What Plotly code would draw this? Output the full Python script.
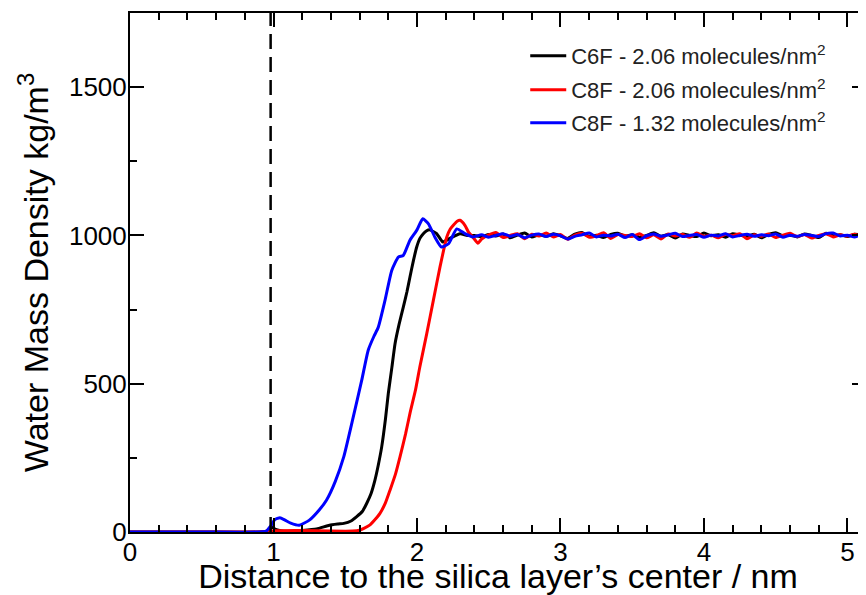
import plotly.graph_objects as go

# ---------------- data ----------------
series_names = [
    "C6F - 2.06 molecules/nm<sup>2</sup>",
    "C8F - 2.06 molecules/nm<sup>2</sup>",
    "C8F - 1.32 molecules/nm<sup>2</sup>",
]
series_colors = ["#000000", "#ff0000", "#0000ff"]

x_tick_vals = [0, 1, 2, 3, 4, 5]
y_tick_vals = [0, 500, 1000, 1500]
surface_x = 0.98  # dashed line: silica surface position

# rising part of each profile
black_rise_x = [0, 0.5, 0.9, 0.97, 0.99, 1.01, 1.05, 1.1, 1.2, 1.3, 1.39, 1.45, 1.49, 1.54,
                1.58, 1.62, 1.65, 1.68, 1.707, 1.73, 1.754, 1.78, 1.80, 1.825, 1.847, 1.875,
                1.905, 1.93, 1.951, 1.975, 1.998, 2.02, 2.044, 2.065, 2.086, 2.11, 2.137,
                2.16, 2.18, 2.23, 2.30, 2.35, 2.40]
black_rise_y = [0, 0, 0, 5, 18, 10, 4, 2, 5, 10, 23, 27, 29, 37,
                52, 70, 97, 130, 175, 225, 287, 380, 467, 555, 635, 700,
                759, 810, 860, 915, 961, 990, 1006, 1015, 1019, 1014, 1006,
                990, 978, 990, 1006, 1000, 1000]

red_rise_x = [0, 0.5, 0.9, 1.0, 1.2, 1.4, 1.55, 1.60, 1.63, 1.67, 1.70, 1.742, 1.78, 1.812,
              1.85, 1.882, 1.92, 1.951, 1.99, 2.02, 2.068, 2.114, 2.16, 2.207, 2.23, 2.253,
              2.28, 2.30, 2.334, 2.36, 2.39, 2.425]
red_rise_y = [0, 0, 0, 4, 5, 3, 3, 6, 12, 23, 38, 63, 98, 141,
              195, 254, 330, 400, 480, 557, 669, 781, 893, 994, 1020, 1034,
              1048, 1051, 1034, 1010, 994, 974]

blue_rise_x = [0, 0.5, 0.9, 0.95, 0.98, 1.01, 1.045, 1.08, 1.12, 1.18, 1.25, 1.32, 1.37,
               1.43, 1.49, 1.556, 1.615, 1.66, 1.70, 1.73, 1.777, 1.824, 1.87, 1.905, 1.95,
               1.998, 2.04, 2.08, 2.125, 2.17, 2.22, 2.277, 2.334, 2.39]
blue_rise_y = [0, 0, 0, 3, 20, 42, 48, 40, 30, 23, 40, 75, 108,
               170, 254, 388, 512, 613, 660, 690, 781, 882, 927, 933, 983,
               1017, 1056, 1039, 994, 961, 972, 1022, 1006, 995]

# bulk water plateau
plateau_x = [2.45, 2.50, 2.55, 2.60, 2.65, 2.70, 2.75, 2.80, 2.85, 2.90,
             2.95, 3.00, 3.05, 3.10, 3.15, 3.20, 3.25, 3.30, 3.35, 3.40,
             3.45, 3.50, 3.55, 3.60, 3.65, 3.70, 3.75, 3.80, 3.85, 3.90,
             3.95, 4.00, 4.05, 4.10, 4.15, 4.20, 4.25, 4.30, 4.35, 4.40,
             4.45, 4.50, 4.55, 4.60, 4.65, 4.70, 4.75, 4.80, 4.85, 4.90,
             4.95, 5.00, 5.05, 5.10, 5.15]
black_plateau_y = [996, 1003, 998, 1005, 992, 1001, 1008, 995, 1002, 997,
                   1006, 999, 990, 1004, 1010, 996, 1001, 993, 1003, 1007,
                   998, 1002, 994, 1000, 1009, 997, 1003, 991, 1005, 1000,
                   996, 1008, 999, 1002, 994, 1006, 1001, 997, 1004, 992,
                   1003, 1009, 998, 1001, 995, 1005, 1000, 993, 1007, 999,
                   1002, 996, 1004, 1001, 998]
red_plateau_y = [988, 1002, 1010, 993, 1000, 1006, 989, 1004, 998, 1008,
                 995, 1003, 987, 1001, 1007, 994, 999, 1009, 990, 1003,
                 1000, 996, 1006, 992, 1002, 988, 1005, 998, 1003, 994,
                 1008, 997, 1001, 992, 1004, 999, 1006, 989, 1002, 997,
                 1005, 993, 1001, 1007, 996, 1003, 991, 1000, 1006, 995,
                 1002, 998, 1004, 996, 1000]
blue_plateau_y = [1002, 994, 1000, 1006, 997, 1003, 992, 1001, 1005, 996,
                  1004, 999, 988, 997, 1002, 1008, 995, 1001, 998, 1004,
                  993, 1003, 986, 999, 1005, 997, 1002, 1007, 996, 1000,
                  1003, 994, 1001, 998, 1006, 995, 1000, 1004, 997, 1002,
                  999, 1005, 994, 1001, 997, 1003, 1000, 996, 1006, 1008,
                  998, 1001, 995, 1003, 1000]

series_x = [black_rise_x + plateau_x, red_rise_x + plateau_x, blue_rise_x + plateau_x]
series_y = [black_rise_y + black_plateau_y, red_rise_y + red_plateau_y, blue_rise_y + blue_plateau_y]

x_range = [0, 5.129]
y_range = [0, 1750]

# ---------------- figure ----------------
FONT = "Liberation Sans, Arial, Helvetica, sans-serif"
fig = go.Figure()
legend_ids = ["legend", "legend2", "legend3"]
for name, color, xs, ys, lg in zip(series_names, series_colors, series_x, series_y, legend_ids):
    fig.add_trace(go.Scatter(x=xs, y=ys, mode="lines", name=name, legend=lg,
                             line=dict(color=color, width=3, shape="spline", smoothing=0.5)))

# helper traces so the mirrored axes are drawn
fig.add_trace(go.Scatter(x=black_rise_x[:1], y=black_rise_y[:1], xaxis="x2", yaxis="y",
                         mode="markers", marker=dict(opacity=0), showlegend=False, hoverinfo="skip"))
fig.add_trace(go.Scatter(x=black_rise_x[:1], y=black_rise_y[:1], xaxis="x", yaxis="y2",
                         mode="markers", marker=dict(opacity=0), showlegend=False, hoverinfo="skip"))

fig.add_shape(type="line", xref="x", yref="paper", x0=surface_x, x1=surface_x, y0=0, y1=1,
              line=dict(color="black", width=2.5, dash="15px,8px"))

axis_common = dict(showgrid=False, zeroline=False, ticks="inside", tickwidth=2,
                   tickcolor="black", linecolor="black", linewidth=2, automargin=False)

legend_common = dict(x=0.537, xanchor="left", yanchor="middle", bgcolor="rgba(0,0,0,0)",
                     font=dict(size=22, color="#222222"), itemwidth=36)

# the page body adds an 8px offset, so the figure is 8px smaller and margins shifted
fig.update_layout(
    width=858, height=587,
    margin=dict(l=122, r=0, t=5, b=63),
    paper_bgcolor="white", plot_bgcolor="white",
    font=dict(family=FONT, color="black"),
    xaxis=dict(range=x_range, tickvals=x_tick_vals, ticklen=14, showline=True,
               tickfont=dict(size=26), ticklabelstandoff=-4,
               minor=dict(dtick=0.2, tick0=0, ticks="inside", ticklen=7, tickwidth=2, tickcolor="black"),
               title=dict(text="Distance to the silica layer\u2019s center / nm",
                          font=dict(size=34), standoff=12),
               **axis_common),
    xaxis2=dict(range=x_range, overlaying="x", side="top", tickvals=x_tick_vals, ticklen=14,
                showline=True, showticklabels=False,
                minor=dict(dtick=0.2, tick0=0, ticks="inside", ticklen=7, tickwidth=2, tickcolor="black"),
                **axis_common),
    yaxis=dict(range=y_range, tickvals=y_tick_vals, ticklen=14, showline=True,
               tickfont=dict(size=26), ticklabelstandoff=-4,
               minor=dict(dtick=250, tick0=0, ticks="inside", ticklen=7, tickwidth=2, tickcolor="black"),
               title=dict(text="Water Mass Density kg/m<sup>3</sup>", font=dict(size=34), standoff=10),
               **axis_common),
    yaxis2=dict(range=y_range, overlaying="y", side="right", tickvals=y_tick_vals, ticklen=14,
                showline=False, showticklabels=False,
                minor=dict(dtick=250, tick0=0, ticks="inside", ticklen=7, tickwidth=2, tickcolor="black"),
                **axis_common),
    legend=dict(y=(532 - 56) / 519, **legend_common),
    legend2=dict(y=(532 - 90) / 519, **legend_common),
    legend3=dict(y=(532 - 123) / 519, **legend_common),
    showlegend=True,
)

fig.write_html("out.html")
